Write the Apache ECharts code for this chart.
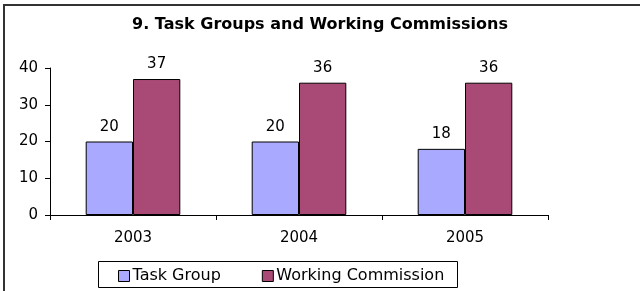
<!DOCTYPE html>
<html><head><meta charset="utf-8">
<script src="https://cdn.jsdelivr.net/npm/echarts@6/dist/echarts.min.js"></script>
<style>html,body{margin:0;padding:0;background:#fff}#c{width:640px;height:291px}</style>
</head><body><div id="c"></div>
<script>
var categories = ['2003', '2004', '2005'];
var taskGroup = [20, 20, 18];
var workingCommission = [37, 36, 36];
var yTicks = [0, 10, 20, 30, 40];

var font = 'DejaVu Sans, Verdana, sans-serif';
var chart = echarts.init(document.getElementById('c'), null, {renderer: 'canvas'});
chart.setOption({
  animation: false,
  backgroundColor: '#fff',
  title: {
    text: '9. Task Groups and Working Commissions',
    left: 'center', top: 17, padding: 0,
    textStyle: {fontFamily: font, fontSize: 16, fontWeight: 'bold', color: '#000'}
  },
  graphic: [
    {type: 'rect', shape: {x: 4, y: 5, width: 700, height: 400}, style: {fill: 'none', stroke: '#333', lineWidth: 2}, z: -1},
    {type: 'rect', shape: {x: 98.5, y: 261.5, width: 359, height: 26}, style: {fill: 'none', stroke: '#000', lineWidth: 1}, z: 1}
  ],
  legend: {
    left: 118, top: 268, padding: 0,
    itemWidth: 11, itemHeight: 11, itemGap: 41,
    icon: 'rect',
    textStyle: {fontFamily: font, fontSize: 16, color: '#000', padding: [0, 0, 0, -2]},
    itemStyle: {borderColor: '#000', borderWidth: 1},
    data: ['Task Group', 'Working Commission']
  },
  grid: {left: 50, right: 92, top: 68, bottom: 76, containLabel: false},
  xAxis: {
    type: 'category', data: categories,
    axisLine: {lineStyle: {color: '#000', width: 1}},
    axisTick: {show: true, alignWithLabel: false, length: 5, lineStyle: {color: '#000'}},
    axisLabel: {fontFamily: font, fontSize: 15, color: '#000', margin: 16}
  },
  yAxis: {
    type: 'value', min: yTicks[0], max: yTicks[yTicks.length - 1], interval: 10,
    axisLine: {show: true, lineStyle: {color: '#000', width: 1}},
    axisTick: {show: true, length: 5, lineStyle: {color: '#000'}},
    splitLine: {show: false},
    axisLabel: {fontFamily: font, fontSize: 15, color: '#000', margin: 12}
  },
  series: [
    {name: 'Task Group', type: 'bar', data: taskGroup, barGap: '0%', barCategoryGap: '43%',
     itemStyle: {color: '#A9A9FF', borderColor: '#000', borderWidth: 1},
     label: {show: true, position: 'top', distance: 7, fontFamily: font, fontSize: 15, color: '#000'}},
    {name: 'Working Commission', type: 'bar', data: workingCommission, barGap: '0%', barCategoryGap: '43%',
     itemStyle: {color: '#A94A76', borderColor: '#000', borderWidth: 1},
     label: {show: true, position: 'top', distance: 7, fontFamily: font, fontSize: 15, color: '#000'}}
  ]
});
</script></body></html>
